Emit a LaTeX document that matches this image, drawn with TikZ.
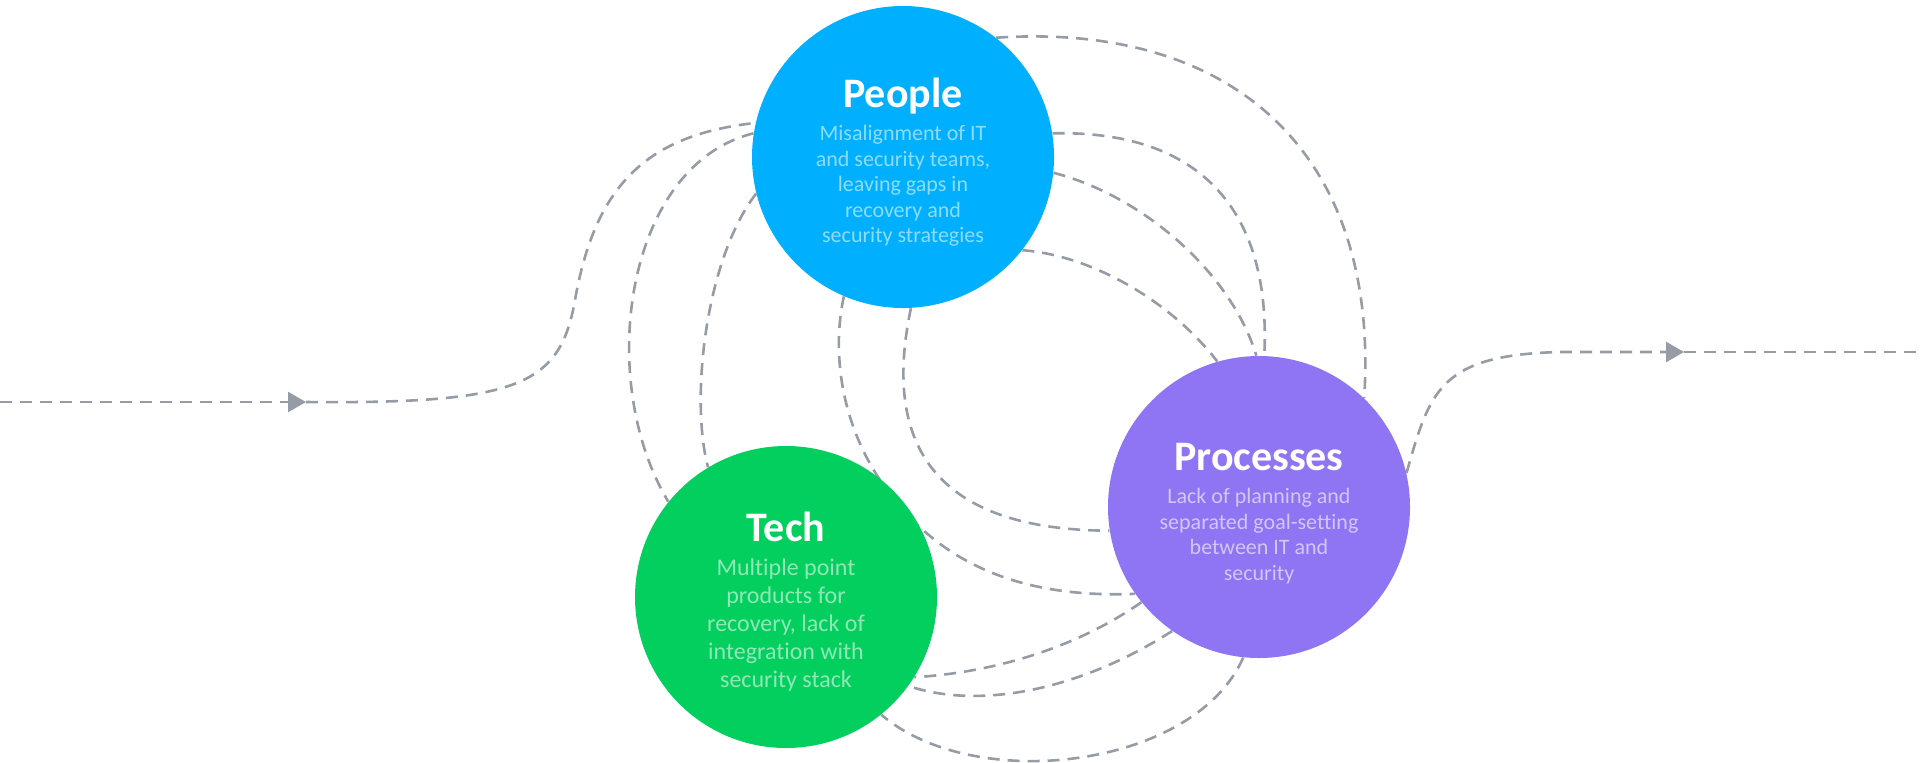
\documentclass[tikz,border=0pt]{standalone}
\usepackage{fontspec}
\setmainfont{Carlito}[Ligatures=NoCommon]
\usepackage{tikz}
\usetikzlibrary{arrows.meta,backgrounds,positioning}
\definecolor{peoplefill}{HTML}{00B0FF}
\definecolor{techfill}{HTML}{03CF5E}
\definecolor{procfill}{HTML}{8F74F3}
\definecolor{linegray}{HTML}{959CA6}

\begin{document}
\begin{tikzpicture}[
    x=0.5pt, y=-0.5pt,
    >={Triangle[length=9pt,width=10pt]},
    pillar/.style={
		circle,
		minimum size=151pt,
		inner sep=0pt
	},
	heading/.style={
		font=\fontsize{21}{24}\selectfont\bfseries,
		text=white,
		anchor=base,
		inner sep=0pt
	},
	blurb/.style={
		align=center,
		inner sep=0pt,
		font=\fontsize{11}{12.75}\selectfont
	},
	dashline/.style={
		draw=linegray,
		line width=1.3pt,
		dash pattern=on 6pt off 4pt
	}
  ]
  \useasboundingbox (0,0) rectangle (1920,762);

    % the three circles first
  \node [pillar, fill=peoplefill] (people) at (903,157) {};
  \node [pillar, fill=techfill] (tech) at (786,597) {};
  \node [pillar, fill=procfill] (processes) at (1259,507) {};

  \node [heading] (peoplehead) at (903,107) {People};
  \node [blurb, text=white!55!peoplefill] (peopletext) at (903,186)
 {Misalignment of IT\\and security teams,\\leaving gaps in\\recovery and\\security strategies};

  \node [heading] (techhead) at (786,541) {Tech};
  \node [blurb, text=white!55!techfill, font=\fontsize{12}{13.9}\selectfont] (techtext) at (786,625)
 {Multiple point\\products for\\recovery, lack of\\integration with\\security stack};

  \node [heading] (prochead) at (1259,470) {Processes};
  \node [blurb, text=white!60!procfill] (proctext) at (1259,536)
 {Lack of planning and\\separated goal-setting\\between IT and\\security};

  \coordinate (start) at (0,402);
  \coordinate (inmark) at (306,402);
  \coordinate (outmark) at (1684,352);
  \coordinate (finish) at (1920,352);

 \begin{scope}[on background layer]
 % in and out
 \draw [dashline] (inmark) .. controls (520,404) and (560,385) .. (575,300)
    .. controls (595,187) and (645,135) .. (people.167);
 \draw [dashline,->] (start) -- (inmark);
 \draw [dashline,->] (processes.13) .. controls (1430,390) and (1440,355) .. (1560,352) -- (outmark);
 \draw [dashline] (outmark) -- (finish);

 % people -> tech
 \draw [dashline] (people.171) .. controls (625,165) and (595,380) .. (tech.141);
 \draw [dashline] (people.194) .. controls (705,260) and (690,400) .. (tech.121);

 % people -> processes
 \draw [dashline] (people.247) .. controls (832,350) and (840,420) .. (880,480)
    .. controls (940,570) and (1030,598) .. (processes.215);
 \draw [dashline] (people.273) .. controls (885,430) and (920,530) .. (processes.189);
 \draw [dashline] (people.52) .. controls (1230,22) and (1380,150) .. (processes.46);
 \draw [dashline] (people.9) .. controls (1190,130) and (1272,200) .. (processes.88);
 \draw [dashline] (people.354) .. controls (1140,195) and (1230,270) .. (processes.91);
 \draw [dashline] (people.322) .. controls (1090,255) and (1170,300) .. (processes.106);

 % processes -> tech
 \draw [dashline] (processes.219) .. controls (1080,645) and (1000,672) .. (tech.328);
 \draw [dashline] (processes.235) .. controls (1080,690) and (980,710) .. (tech.324);
 \draw [dashline] (processes.264) .. controls (1195,768) and (975,795) .. (tech.309);
 \end{scope}

\end{tikzpicture}
\end{document}
